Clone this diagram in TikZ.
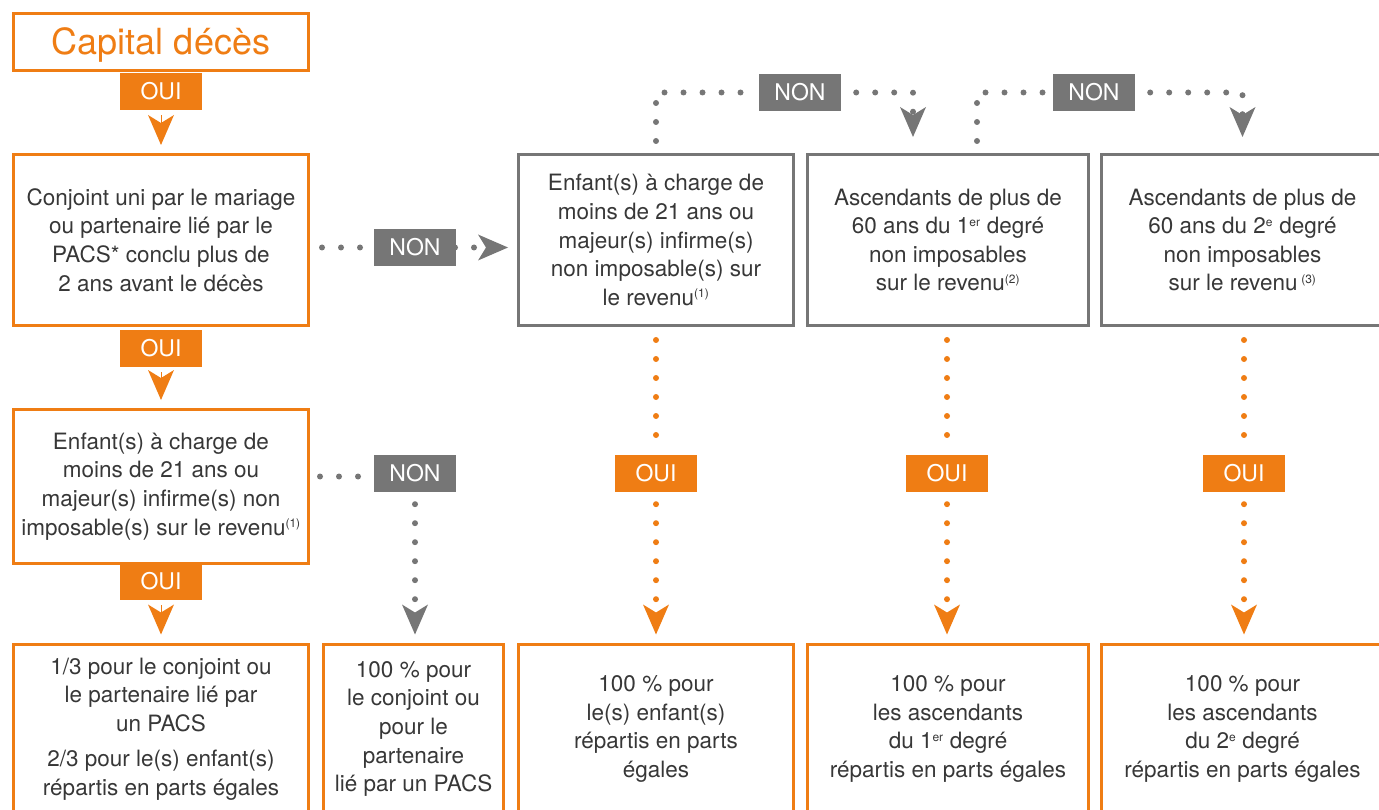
\documentclass[tikz,border=0pt]{standalone}
\usepackage{fontspec}
\setmainfont{TeX Gyre Heros}
\definecolor{orange1}{RGB}{239, 125, 20}
\definecolor{gray1}{RGB}{118, 118, 118}
\definecolor{text1}{RGB}{55, 55, 55}
\usetikzlibrary{arrows.meta, positioning}
\newcommand{\noteup}[1]{\textsuperscript{\fontsize{12}{12}\selectfont #1}}

\begin{document}
\begin{tikzpicture}[x=1pt, y=-1pt,
    box/.style={draw=orange1, line width=3pt, align=center, inner sep=0pt, text=text1,
      font=\fontsize{22.5}{28.6}\selectfont, minimum height=171pt},
    graybox/.style={box, draw=gray1},
    oui/.style={fill=orange1, text=white, minimum width=82pt, minimum height=37pt, inner sep=0pt,
      font=\fontsize{23}{23}\selectfont},
    non/.style={oui, fill=gray1},
    dots/.style={line width=6pt, line cap=round, dash pattern=on 0pt off 19pt},
    tip/.style={-{Stealth[length=30pt, width=26pt, inset=8pt, line width=0pt]}},
    otip/.style={tip, orange1, line width=0.1pt, shorten >=8pt, shorten <=5pt},
  ]
  \useasboundingbox (0,0) rectangle (1379,810);

  \node[box, minimum width=295pt, minimum height=57pt, text=orange1, font=\fontsize{36}{36}\selectfont,
    text height=29pt, text depth=3pt] (capital) at (161,42) {Capital décès};
  \node[oui] (oui1) at (161,91.5) {OUI};

  \node[box, minimum width=295pt] (conjoint) at (161,240)
    {Conjoint uni par le mariage\\ ou partenaire lié par le\\ PACS* conclu plus de\\ 2 ans avant le décès};
  \node[oui] (oui2) at (161,348.5) {OUI};

  \node[box, minimum width=295pt, minimum height=154pt] (enfants) at (161,486.5)
    {Enfant(s) à charge de\\ moins de 21 ans ou\\ majeur(s) infirme(s) non\\ imposable(s) sur le revenu\noteup{(1)}};
  \node[oui] (oui3) at (161,581.5) {OUI};

  \node[graybox, minimum width=275pt] (enfantsbis) at (656,240)
    {Enfant(s) à charge de\\ moins de 21 ans ou\\ majeur(s) infirme(s)\\ non imposable(s) sur\\ le revenu\noteup{(1)}};
  \node[graybox, minimum width=281pt] (asc1) at (948,240)
    {Ascendants de plus de\\ 60 ans du 1\noteup{er} degré\\ non imposables\\ sur le revenu\noteup{(2)}};
  \node[graybox, minimum width=282pt] (asc2) at (1242.5,240)
    {Ascendants de plus de\\ 60 ans du 2\noteup{e} degré\\ non imposables\\ sur le revenu\,\noteup{(3)}};

  \node[box, minimum width=295pt, minimum height=170pt] (resA) at (161,729)
    {1/3 pour le conjoint ou\\ le partenaire lié par\\ un PACS\\[7pt] 2/3 pour le(s) enfant(s)\\ répartis en parts égales};
  \node[box, minimum width=180pt, minimum height=170pt] (resB) at (413.5,729)
    {100 \% pour\\ le conjoint ou\\ pour le\\ partenaire\\ lié par un PACS};
  \node[box, minimum width=275pt, minimum height=170pt] (resC) at (656,729)
    {100 \% pour\\ le(s) enfant(s)\\ répartis en parts\\ égales};
  \node[box, minimum width=281pt, minimum height=170pt] (resD) at (948,729)
    {100 \% pour\\ les ascendants\\ du 1\noteup{er} degré\\ répartis en parts égales};
  \node[box, minimum width=282pt, minimum height=170pt] (resE) at (1242.5,729)
    {100 \% pour\\ les ascendants\\ du 2\noteup{e} degré\\ répartis en parts égales};

  \node[non] (nonA) at (415,247.5) {NON};
  \node[non] (nonB) at (415,473.5) {NON};
  \node[non] (nonC) at (800,92.5) {NON};
  \node[non] (nonD) at (1094,92.5) {NON};
  \node[oui] (ouiC) at (656,473.5) {OUI};
  \node[oui] (ouiD) at (947,473.5) {OUI};
  \node[oui] (ouiE) at (1244,473.5) {OUI};

  \draw[otip] (oui1.south) -- (conjoint.north);
  \draw[otip] (oui2.south) -- (enfants.north);
  \draw[otip] (oui3.south) -- (resA.north);

  \draw[gray1, dots, tip, shorten <=12pt, shorten >=9pt] (conjoint.east |- nonA) -- (enfantsbis.west |- nonA);
  \node[non] at (nonA) {NON};

  \draw[gray1, dots, shorten <=10pt, shorten >=4pt] ([yshift=-3pt]enfants.east |- nonB) -- ([yshift=-3pt]nonB.west);
  \draw[gray1, dots, tip, shorten <=12pt, shorten >=8pt] (nonB.south) -- (resB.north -| nonB);

  \draw[gray1, dots, shorten <=12pt, shorten >=2pt] (enfantsbis.north) |- (nonC.west);
  \draw[gray1, dots, tip, shorten <=15pt, shorten >=16pt] (nonC.east) -| ([xshift=-35pt]asc1.north);
  \draw[gray1, dots, shorten <=12pt, shorten >=2pt] ([xshift=29pt]asc1.north) |- (nonD.west);
  \draw[gray1, dots, tip, shorten <=15pt, shorten >=16pt] (nonD.east) -| (asc2.north);

  \draw[orange1, dots, shorten <=13pt, shorten >=16pt] (enfantsbis.south) -- (ouiC.north);
  \draw[orange1, dots, tip, shorten <=12pt, shorten >=8pt] (ouiC.south) -- (resC.north);
  \draw[orange1, dots, shorten <=13pt, shorten >=16pt] (asc1.south -| ouiD) -- (ouiD.north);
  \draw[orange1, dots, tip, shorten <=12pt, shorten >=8pt] (ouiD.south) -- (resD.north -| ouiD);
  \draw[orange1, dots, shorten <=13pt, shorten >=16pt] (asc2.south -| ouiE) -- (ouiE.north);
  \draw[orange1, dots, tip, shorten <=12pt, shorten >=8pt] (ouiE.south) -- (resE.north -| ouiE);
\end{tikzpicture}
\end{document}
